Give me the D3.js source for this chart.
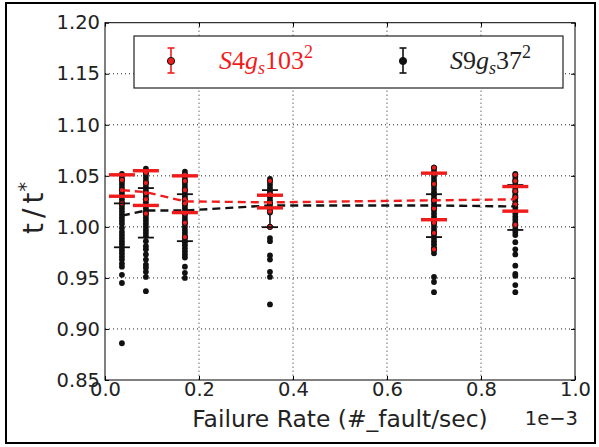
<!DOCTYPE html>
<html>
<head>
<meta charset="utf-8">
<script src="https://cdn.jsdelivr.net/npm/d3@7"></script>
<style>
  html, body { margin: 0; padding: 0; background: #fff; }
  svg { display: block; }
</style>
</head>
<body>
<svg id="chart" width="599" height="447"></svg>
<script>
// ---------- DATA ----------
const failureRates = [0.036, 0.087, 0.170, 0.351, 0.700, 0.873]; // x, units of 1e-3
const xTicks = [0.0, 0.2, 0.4, 0.6, 0.8, 1.0];
const yTicks = [0.85, 0.90, 0.95, 1.00, 1.05, 1.10, 1.15, 1.20];

// S9gs37^2 (black) individual samples per failure rate
const blackSamples = [
  [1.052, 1.048, 1.045, 1.042, 1.039, 1.036, 1.033, 1.030, 1.027, 1.024, 1.021, 1.018, 1.015, 1.012, 1.009, 1.006, 1.003, 0.999, 0.995, 0.992, 0.989, 0.986, 0.983, 0.980, 0.977, 0.974, 0.971, 0.968, 0.964, 0.961, 0.953, 0.945, 0.886],
  [1.057, 1.054, 1.051, 1.048, 1.045, 1.042, 1.039, 1.036, 1.033, 1.030, 1.027, 1.024, 1.021, 1.018, 1.015, 1.012, 1.009, 1.006, 1.003, 1.000, 0.997, 0.994, 0.991, 0.986, 0.981, 0.978, 0.973, 0.968, 0.963, 0.960, 0.956, 0.951, 0.937],
  [1.054, 1.051, 1.048, 1.045, 1.042, 1.039, 1.036, 1.033, 1.030, 1.027, 1.024, 1.021, 1.018, 1.015, 1.012, 1.009, 1.006, 1.003, 1.000, 0.997, 0.994, 0.991, 0.988, 0.985, 0.982, 0.979, 0.976, 0.973, 0.970, 0.961, 0.955, 0.950],
  [1.047, 1.044, 1.041, 1.038, 1.035, 1.032, 1.029, 1.026, 1.023, 1.020, 1.017, 1.014, 1.000, 0.989, 0.986, 0.972, 0.968, 0.956, 0.951, 0.924],
  [1.058, 1.055, 1.052, 1.049, 1.046, 1.043, 1.040, 1.037, 1.034, 1.031, 1.028, 1.025, 1.022, 1.019, 1.016, 1.013, 1.010, 1.007, 1.004, 1.001, 0.998, 0.995, 0.992, 0.989, 0.986, 0.983, 0.980, 0.977, 0.974, 0.951, 0.946, 0.936],
  [1.052, 1.049, 1.046, 1.043, 1.040, 1.037, 1.034, 1.031, 1.028, 1.025, 1.022, 1.019, 1.016, 1.013, 1.010, 1.007, 1.004, 1.001, 0.998, 0.995, 0.992, 0.985, 0.978, 0.973, 0.962, 0.954, 0.952, 0.943, 0.936]
];
// S4gs103^2 (red) individual samples per failure rate
const redSamples = [
  [1.051, 1.046, 1.036, 1.023],
  [1.053, 1.043, 1.033, 1.027, 1.013],
  [1.051, 1.045, 1.036, 1.027, 1.023, 1.013, 1.004, 0.990],
  [1.045, 1.032, 1.023, 1.015, 1.000],
  [1.058, 1.052, 1.042, 1.026, 1.018, 1.004, 0.994, 0.978],
  [1.051, 1.045, 1.035, 1.029, 1.022, 1.002]
];
// mean lines
const blackMean = [1.011, 1.016, 1.016, 1.021, 1.021, 1.020];
const redMean   = [1.036, 1.034, 1.025, 1.024, 1.026, 1.027];
// error bar extents
const blackLow  = [0.980, 0.9895, 0.986, 0.9997, 0.990, 0.997];
const blackHigh = [1.023, 1.038, 1.032, 1.036, 1.032, 1.041];
const redLow    = [1.030, 1.021, 1.014, 1.0186, 1.007, 1.0154];
const redHigh   = [1.051, 1.055, 1.050, 1.031, 1.0526, 1.0395];

// ---------- LAYOUT ----------
const RED = "#f01c1c";
const BLK = "#111";
const L = 105, R = 575, T = 22.7, B = 380;
const svg = d3.select("#chart");
const x = d3.scaleLinear().domain([0, 1.0]).range([L, R]);
const y = d3.scaleLinear().domain([0.85, 1.20]).range([B, T]);

// outer frame
svg.append("rect").attr("x", 6).attr("y", 3).attr("width", 589).attr("height", 440)
  .attr("fill", "none").attr("stroke", "#000").attr("stroke-width", 2);

// grid
const grid = svg.append("g").attr("stroke", "#222").attr("stroke-width", 1)
  .attr("stroke-dasharray", "1,3");
grid.selectAll("line.gx").data(xTicks.slice(1, -1)).join("line")
  .attr("x1", d => x(d)).attr("x2", d => x(d)).attr("y1", T).attr("y2", B);
grid.selectAll("line.gy").data(yTicks.slice(1, -1)).join("line")
  .attr("y1", d => y(d)).attr("y2", d => y(d)).attr("x1", L).attr("x2", R);

// axes
const fontTick = "19.5px";
const axB = svg.append("g").attr("transform", `translate(0,${B})`)
  .call(d3.axisBottom(x).tickValues(xTicks).tickFormat(d3.format(".1f")).tickSize(-4).tickPadding(2));
const axT = svg.append("g").attr("transform", `translate(0,${T})`)
  .call(d3.axisTop(x).tickValues(xTicks).tickFormat("").tickSize(-4));
const axLft = svg.append("g").attr("transform", `translate(${L},0)`)
  .call(d3.axisLeft(y).tickValues(yTicks).tickFormat(d3.format(".2f")).tickSize(-4).tickPadding(5));
const axRt = svg.append("g").attr("transform", `translate(${R},0)`)
  .call(d3.axisRight(y).tickValues(yTicks).tickFormat("").tickSize(-4));
[axB, axT, axLft, axRt].forEach(g => {
  g.select(".domain").remove();
  g.selectAll("line").attr("stroke", "#000");
  g.selectAll("text").attr("font-family", "DejaVu Sans").attr("font-size", fontTick).attr("fill", "#222");
});
svg.append("rect").attr("x", L).attr("y", T).attr("width", R - L).attr("height", B - T)
  .attr("fill", "none").attr("stroke", "#000").attr("stroke-width", 1);

// axis labels
svg.append("text").attr("x", 340).attr("y", 427).attr("text-anchor", "middle")
  .attr("font-family", "DejaVu Sans").attr("font-size", "23.4px").attr("fill", "#222")
  .text("Failure Rate (#_fault/sec)");
svg.append("text").attr("x", 578).attr("y", 425).attr("text-anchor", "end")
  .attr("font-family", "DejaVu Sans").attr("font-size", fontTick).attr("fill", "#222")
  .text("1e\u22123");
const yl = svg.append("text").attr("transform", "translate(43,208) rotate(-90)")
  .attr("text-anchor", "middle").attr("font-family", "DejaVu Sans").attr("font-size", "28px").attr("fill", "#222");
yl.append("tspan").text("t");
yl.append("tspan").attr("dx", "5").text("/");
yl.append("tspan").attr("dx", "5").text("t");
yl.append("tspan").attr("font-size", "19px").attr("dx", "1").attr("dy", "-11").text("*");

// plot content
const plot = svg.append("g");
// error bar stems
failureRates.forEach((fr, i) => {
  plot.append("line").attr("x1", x(fr)).attr("x2", x(fr)).attr("y1", y(blackLow[i])).attr("y2", y(blackHigh[i]))
    .attr("stroke", BLK).attr("stroke-width", 1.6);
  plot.append("line").attr("x1", x(fr)).attr("x2", x(fr)).attr("y1", y(redLow[i])).attr("y2", y(redHigh[i]))
    .attr("stroke", RED).attr("stroke-width", 1.2);
});
// black samples
failureRates.forEach((fr, i) => {
  plot.selectAll(null).data(blackSamples[i]).join("circle")
    .attr("cx", x(fr)).attr("cy", d => y(d)).attr("r", 2.9).attr("fill", BLK);
});
// red samples
failureRates.forEach((fr, i) => {
  plot.selectAll(null).data(redSamples[i]).join("circle")
    .attr("cx", x(fr)).attr("cy", d => y(d)).attr("r", 2.6).attr("fill", RED)
    .attr("stroke", BLK).attr("stroke-width", 1);
});
// mean dashed lines
const line = d3.line().x((d, i) => x(failureRates[i])).y(d => y(d));
plot.append("path").attr("d", line(blackMean)).attr("fill", "none").attr("stroke", BLK)
  .attr("stroke-width", 2.4).attr("stroke-dasharray", "8,5");
plot.append("path").attr("d", line(redMean)).attr("fill", "none").attr("stroke", RED)
  .attr("stroke-width", 2.4).attr("stroke-dasharray", "8,5");
// caps
failureRates.forEach((fr, i) => {
  [blackLow[i], blackHigh[i]].forEach(v => {
    plot.append("line").attr("x1", x(fr) - 8).attr("x2", x(fr) + 8).attr("y1", y(v)).attr("y2", y(v))
      .attr("stroke", BLK).attr("stroke-width", 1.8);
  });
});
failureRates.forEach((fr, i) => {
  [redLow[i], redHigh[i]].forEach(v => {
    plot.append("line").attr("x1", x(fr) - 13).attr("x2", x(fr) + 13).attr("y1", y(v)).attr("y2", y(v))
      .attr("stroke", RED).attr("stroke-width", 3.4);
  });
});

// legend
const lg = svg.append("g");
lg.append("rect").attr("x", 134).attr("y", 36).attr("width", 429).attr("height", 52)
  .attr("fill", "#fff").attr("stroke", "#222").attr("stroke-width", 1.2);
function legendSymbol(cx, color) {
  lg.append("line").attr("x1", cx).attr("x2", cx).attr("y1", 48).attr("y2", 73).attr("stroke", color).attr("stroke-width", 1.6);
  [48, 73].forEach(yy => lg.append("line").attr("x1", cx - 3.5).attr("x2", cx + 3.5).attr("y1", yy).attr("y2", yy)
    .attr("stroke", color).attr("stroke-width", 1.6));
  lg.append("circle").attr("cx", cx).attr("cy", 61).attr("r", 3.6).attr("fill", color).attr("stroke", "#111").attr("stroke-width", 1);
}
legendSymbol(171, RED);
legendSymbol(403, BLK);
function legendLabel(x0, color, digits1, digits2) {
  const t = lg.append("text").attr("x", x0).attr("y", 69).attr("font-family", "Liberation Serif")
    .attr("font-size", "26px").attr("fill", color);
  t.append("tspan").attr("font-style", "italic").text("S");
  t.append("tspan").text(digits1);
  t.append("tspan").attr("font-style", "italic").text("g");
  t.append("tspan").attr("font-style", "italic").attr("font-size", "18px").attr("dy", "5").text("s");
  t.append("tspan").attr("dy", "-5").text(digits2);
  t.append("tspan").attr("font-size", "18px").attr("dy", "-11").text("2");
}
legendLabel(219, RED, "4", "103");
legendLabel(450, "#222", "9", "37");
</script>
</body>
</html>
